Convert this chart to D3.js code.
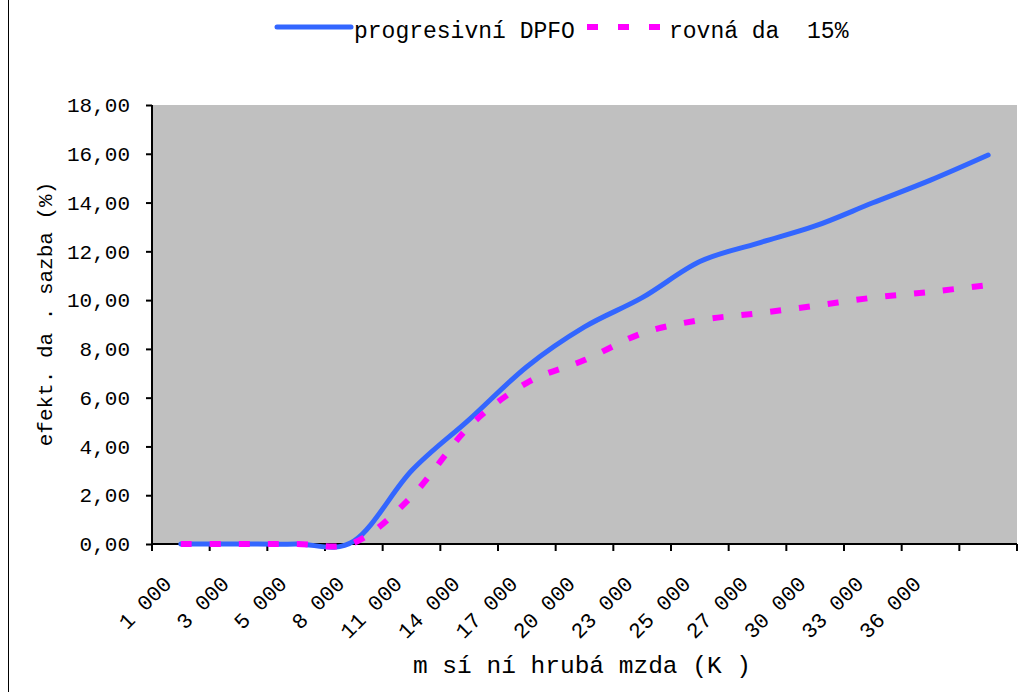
<!DOCTYPE html>
<html>
<head>
<meta charset="utf-8">
<script src="https://cdn.jsdelivr.net/npm/d3@7"></script>
<style>
  body { margin: 0; background: #fff; }
  text { font-family: "Liberation Mono", "Courier New", monospace; fill: #000; white-space: pre; }
</style>
</head>
<body>
<svg id="chart" width="1028" height="692"></svg>
<script>
// Monthly gross wage categories (CZK); the last category carries no label
const categories = ["1 000", "3 000", "5 000", "8 000", "11 000", "14 000", "17 000",
                    "20 000", "23 000", "25 000", "27 000", "30 000", "33 000", "36 000", ""];

// Effective tax rate (%) under the progressive personal income tax
const progressive = [0, 0, 0, 0.12, 3.0, 5.1, 7.27, 8.9, 10.1, 11.58, 12.33, 13.04, 13.99, 14.92, 15.95];

// Effective tax rate (%) under a 15 % flat tax
const flat15 = [0, 0, 0, 0.05, 1.94, 4.81, 6.61, 7.54, 8.64, 9.18, 9.46, 9.77, 10.1, 10.34, 10.62];

const yTicks = [0, 2, 4, 6, 8, 10, 12, 14, 16, 18];

const seriesNames = ["progresivní DPFO", "rovná da  15%"];
const xTitle = "m sí ní hrubá mzda (K )";
const yTitle = "efekt. da . sazba (%)";

const svg = d3.select("#chart");
const plot = { left: 152, right: 1017, top: 105, bottom: 544 };

const czFmt = d3.formatLocale({ decimal: ",", thousands: " ", grouping: [3], currency: ["", ""] }).format(".2f");

const x = d3.scaleBand().domain(d3.range(categories.length)).range([plot.left, plot.right]).padding(0);
const y = d3.scaleLinear().domain([0, 18]).range([plot.bottom, plot.top]);
const cx = i => x(i) + x.bandwidth() / 2;

// chart area frame
svg.append("line").attr("x1", 8.5).attr("x2", 8.5).attr("y1", 0).attr("y2", 692)
  .attr("stroke", "#000").attr("stroke-width", 1);

// plot area
svg.append("rect")
  .attr("x", plot.left).attr("y", plot.top)
  .attr("width", plot.right - plot.left).attr("height", plot.bottom - plot.top)
  .attr("fill", "#c0c0c0");

// y axis
const yAxis = d3.axisLeft(y).tickValues(yTicks).tickFormat(czFmt).tickSize(6).tickPadding(16);
const gy = svg.append("g").attr("transform", `translate(${plot.left},0)`).call(yAxis);
gy.select(".domain").attr("stroke", "#000").attr("stroke-width", 2).attr("d", `M0,${plot.top}V${plot.bottom}`);
gy.selectAll(".tick line").attr("stroke", "#000").attr("stroke-width", 2);
gy.selectAll(".tick text").attr("font-size", 21).attr("font-family", "Liberation Mono, Courier New, monospace");

// x axis: tick marks on category boundaries
const gx = svg.append("g");
gx.append("line").attr("x1", plot.left).attr("x2", plot.right)
  .attr("y1", plot.bottom).attr("y2", plot.bottom)
  .attr("stroke", "#000").attr("stroke-width", 2);
const bounds = d3.range(categories.length + 1).map(i => i < categories.length ? x(i) : plot.right);
gx.selectAll("line.tick").data(bounds).join("line").attr("class", "tick")
  .attr("x1", d => d).attr("x2", d => d)
  .attr("y1", plot.bottom).attr("y2", plot.bottom + 7)
  .attr("stroke", "#000").attr("stroke-width", 2);
gx.selectAll("text.lbl").data(categories).join("text").attr("class", "lbl")
  .attr("transform", (d, i) => `translate(${cx(i) - 8},${plot.bottom + 41}) rotate(-45)`)
  .attr("text-anchor", "end")
  .attr("font-size", 21.5)
  .text(d => d);

// series lines (Excel-style smoothing)
const line = d3.line().x((d, i) => cx(i)).y(d => y(d)).curve(d3.curveCatmullRom.alpha(0));

svg.append("path").datum(progressive)
  .attr("d", line).attr("fill", "none")
  .attr("stroke", "#3366ff").attr("stroke-width", 5)
  .attr("stroke-linecap", "round").attr("stroke-linejoin", "round");

svg.append("path").datum(flat15)
  .attr("d", line).attr("fill", "none")
  .attr("stroke", "#ff00ff").attr("stroke-width", 6)
  .attr("stroke-dasharray", "11,18");

// legend
const lg = svg.append("g");
lg.append("line").attr("x1", 277).attr("x2", 351).attr("y1", 27).attr("y2", 27)
  .attr("stroke", "#3366ff").attr("stroke-width", 5).attr("stroke-linecap", "round");
lg.append("text").attr("x", 354).attr("y", 38).attr("font-size", 23).text(seriesNames[0]);
lg.append("line").attr("x1", 587).attr("x2", 662).attr("y1", 27).attr("y2", 27)
  .attr("stroke", "#ff00ff").attr("stroke-width", 6).attr("stroke-dasharray", "11,20");
lg.append("text").attr("x", 669).attr("y", 38).attr("font-size", 23).text(seriesNames[1]);

// axis titles
svg.append("text").attr("x", 582).attr("y", 673).attr("text-anchor", "middle")
  .attr("font-size", 24.5).text(xTitle);
svg.append("text").attr("transform", `translate(52,314) rotate(-90)`)
  .attr("text-anchor", "middle").attr("font-size", 21).text(yTitle);
</script>
</body>
</html>
